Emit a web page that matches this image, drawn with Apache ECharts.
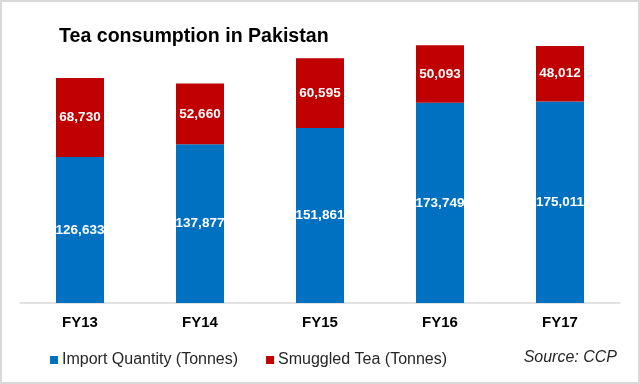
<!DOCTYPE html>
<html>
<head>
<meta charset="utf-8">
<script src="https://cdn.jsdelivr.net/npm/echarts@6/dist/echarts.min.js"></script>
<style>
html,body{margin:0;padding:0;background:#fff;}
#chart{width:640px;height:384px;}
</style>
</head>
<body>
<div id="chart"></div>
<script>
const categories = ['FY13', 'FY14', 'FY15', 'FY16', 'FY17'];
const importQty = [126633, 137877, 151861, 173749, 175011];
const smuggledTea = [68730, 52660, 60595, 50093, 48012];
const seriesNames = ['Import Quantity (Tonnes)', 'Smuggled Tea (Tonnes)'];
const titleText = 'Tea consumption in Pakistan';
const sourceText = 'Source: CCP';

const fmt = v => Number(v).toLocaleString('en-US');
const chart = echarts.init(document.getElementById('chart'), null, {renderer: 'canvas'});
const labelStyle = {
  show: true,
  position: 'inside',
  color: '#ffffff',
  fontFamily: 'Liberation Sans, Arial, sans-serif',
  fontWeight: 'bold',
  fontSize: 13.5,
  formatter: p => fmt(p.value)
};
chart.setOption({
  animation: false,
  backgroundColor: '#ffffff',
  title: {
    text: titleText,
    left: 54,
    top: 22,
    textStyle: {fontFamily: 'Liberation Sans, Arial, sans-serif', fontWeight: 'bold', fontSize: 19.6, color: '#000000'}
  },
  graphic: [
    {type: 'rect', shape: {x: 1, y: 1, width: 638, height: 382}, style: {fill: 'none', stroke: '#d9d9d9', lineWidth: 2}, silent: true},
    {type: 'text', right: 23, top: 350, style: {text: sourceText, fontFamily: 'Liberation Sans, Arial, sans-serif', fontStyle: 'italic', fontSize: 16, fill: '#262626'}}
  ],
  legend: {
    left: 45,
    top: 347,
    icon: 'rect',
    itemWidth: 8,
    itemHeight: 8,
    itemGap: 28,
    textStyle: {fontFamily: 'Liberation Sans, Arial, sans-serif', fontSize: 16, color: '#262626', padding: [0, 0, 0, -1]},
    data: seriesNames
  },
  grid: {left: 20, right: 20, top: 15, bottom: 81, containLabel: false},
  xAxis: {
    type: 'category',
    data: categories,
    axisLine: {lineStyle: {color: '#d9d9d9', width: 1.5}},
    axisTick: {show: false},
    axisLabel: {margin: 12, fontFamily: 'Liberation Sans, Arial, sans-serif', fontWeight: 'bold', fontSize: 15, color: '#000000'}
  },
  yAxis: {
    type: 'value',
    min: 0,
    max: 250000,
    show: false,
    splitLine: {show: false}
  },
  series: [
    {name: seriesNames[0], type: 'bar', stack: 'total', data: importQty, barWidth: 48,
     itemStyle: {color: '#0070c0'}, label: labelStyle},
    {name: seriesNames[1], type: 'bar', stack: 'total', data: smuggledTea, barWidth: 48,
     itemStyle: {color: '#c00000'}, label: labelStyle}
  ]
});
</script>
</body>
</html>
